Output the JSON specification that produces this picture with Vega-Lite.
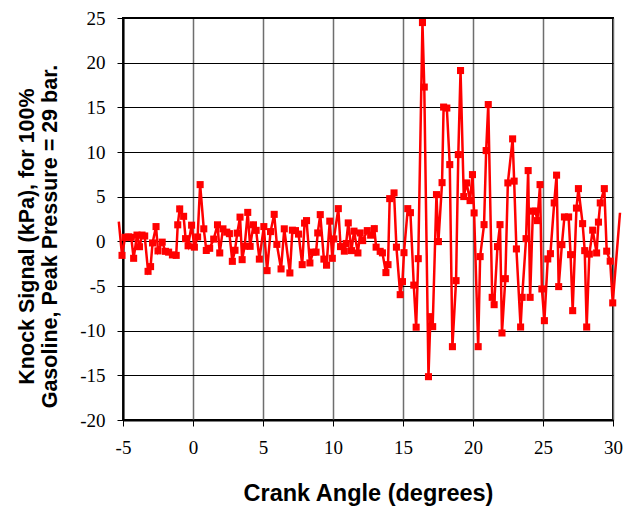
{
  "$schema": "https://vega.github.io/schema/vega-lite/v6.json",
  "width": 490,
  "height": 402,
  "autosize": {"type": "none"},
  "padding": {"left": 123, "top": 18, "right": 12, "bottom": 88},
  "background": "#ffffff",
  "data": {"values": [
    {"angle": -5.30, "signal": 2.2},
    {"angle": -5.07, "signal": -1.57},
    {"angle": -4.85, "signal": 0.45},
    {"angle": -4.60, "signal": 0.5},
    {"angle": -4.41, "signal": 0.45},
    {"angle": -4.24, "signal": -1.9},
    {"angle": -4.00, "signal": 0.7},
    {"angle": -3.82, "signal": -0.6},
    {"angle": -3.64, "signal": 0.7},
    {"angle": -3.45, "signal": 0.6},
    {"angle": -3.21, "signal": -3.36},
    {"angle": -3.03, "signal": -2.83},
    {"angle": -2.89, "signal": -0.18},
    {"angle": -2.64, "signal": 1.65},
    {"angle": -2.50, "signal": -1.07},
    {"angle": -2.20, "signal": -0.09},
    {"angle": -1.97, "signal": -1.12},
    {"angle": -1.74, "signal": -1.21},
    {"angle": -1.47, "signal": -1.52},
    {"angle": -1.20, "signal": -1.57},
    {"angle": -1.09, "signal": 1.85},
    {"angle": -0.95, "signal": 3.63},
    {"angle": -0.67, "signal": 2.8},
    {"angle": -0.53, "signal": 0.3},
    {"angle": -0.35, "signal": -0.5},
    {"angle": -0.10, "signal": 1.81},
    {"angle": 0.10, "signal": -0.65},
    {"angle": 0.33, "signal": 0.49},
    {"angle": 0.51, "signal": 6.35},
    {"angle": 0.77, "signal": 1.4},
    {"angle": 0.95, "signal": -1.02},
    {"angle": 1.19, "signal": -0.78},
    {"angle": 1.48, "signal": 0.25},
    {"angle": 1.75, "signal": 1.85},
    {"angle": 1.91, "signal": -1.3},
    {"angle": 2.14, "signal": 1.4},
    {"angle": 2.41, "signal": 1.03},
    {"angle": 2.60, "signal": 0.86},
    {"angle": 2.81, "signal": -2.24},
    {"angle": 3.00, "signal": -1.0},
    {"angle": 3.16, "signal": 0.92},
    {"angle": 3.36, "signal": 2.71},
    {"angle": 3.51, "signal": -2.05},
    {"angle": 3.69, "signal": -0.54},
    {"angle": 3.91, "signal": 3.24},
    {"angle": 4.08, "signal": -0.56},
    {"angle": 4.32, "signal": 1.85},
    {"angle": 4.51, "signal": 1.23},
    {"angle": 4.74, "signal": -1.99},
    {"angle": 5.06, "signal": 1.65},
    {"angle": 5.29, "signal": -3.28},
    {"angle": 5.54, "signal": 1.09},
    {"angle": 5.80, "signal": 3.02},
    {"angle": 5.99, "signal": -0.34},
    {"angle": 6.29, "signal": -3.09},
    {"angle": 6.52, "signal": 1.4},
    {"angle": 6.92, "signal": -3.54},
    {"angle": 7.10, "signal": 1.25},
    {"angle": 7.32, "signal": 1.2},
    {"angle": 7.54, "signal": 0.81},
    {"angle": 7.80, "signal": -2.61},
    {"angle": 7.97, "signal": 2.04},
    {"angle": 8.11, "signal": 2.32},
    {"angle": 8.35, "signal": -2.42},
    {"angle": 8.58, "signal": -1.21},
    {"angle": 8.79, "signal": -1.21},
    {"angle": 8.91, "signal": 0.94},
    {"angle": 9.09, "signal": 2.99},
    {"angle": 9.35, "signal": -1.99},
    {"angle": 9.54, "signal": -2.67},
    {"angle": 9.77, "signal": 2.26},
    {"angle": 9.95, "signal": -1.9},
    {"angle": 10.06, "signal": 0.27},
    {"angle": 10.38, "signal": 3.66},
    {"angle": 10.54, "signal": -0.59},
    {"angle": 10.81, "signal": -1.1},
    {"angle": 10.94, "signal": -0.24},
    {"angle": 11.09, "signal": 2.06},
    {"angle": 11.32, "signal": -1.04},
    {"angle": 11.50, "signal": 1.14},
    {"angle": 11.78, "signal": -1.3},
    {"angle": 11.94, "signal": 0.94},
    {"angle": 12.12, "signal": 0.08},
    {"angle": 12.45, "signal": 1.2},
    {"angle": 12.69, "signal": 0.69},
    {"angle": 12.95, "signal": 1.42},
    {"angle": 13.08, "signal": -0.65},
    {"angle": 13.37, "signal": -1.12},
    {"angle": 13.53, "signal": -1.29},
    {"angle": 13.78, "signal": -3.5},
    {"angle": 13.93, "signal": -2.61},
    {"angle": 14.05, "signal": 4.78},
    {"angle": 14.36, "signal": 5.42},
    {"angle": 14.53, "signal": -0.65},
    {"angle": 14.80, "signal": -5.97},
    {"angle": 14.96, "signal": -4.51},
    {"angle": 15.07, "signal": -1.27},
    {"angle": 15.34, "signal": 3.66},
    {"angle": 15.53, "signal": 3.21},
    {"angle": 15.77, "signal": -4.9},
    {"angle": 15.94, "signal": -9.61},
    {"angle": 16.09, "signal": -1.94},
    {"angle": 16.39, "signal": 24.49},
    {"angle": 16.52, "signal": 17.27},
    {"angle": 16.82, "signal": -15.15},
    {"angle": 16.96, "signal": -8.43},
    {"angle": 17.12, "signal": -9.55},
    {"angle": 17.39, "signal": 5.23},
    {"angle": 17.53, "signal": -0.03},
    {"angle": 17.79, "signal": 6.57},
    {"angle": 17.90, "signal": 15.03},
    {"angle": 18.13, "signal": 14.92},
    {"angle": 18.34, "signal": 8.59},
    {"angle": 18.53, "signal": -11.79},
    {"angle": 18.79, "signal": -4.4},
    {"angle": 18.95, "signal": 9.71},
    {"angle": 19.11, "signal": 19.12},
    {"angle": 19.34, "signal": 5.01},
    {"angle": 19.54, "signal": 6.54},
    {"angle": 19.79, "signal": 4.56},
    {"angle": 19.96, "signal": 7.47},
    {"angle": 20.08, "signal": 3.18},
    {"angle": 20.37, "signal": -11.79},
    {"angle": 20.51, "signal": -1.71},
    {"angle": 20.79, "signal": 1.87},
    {"angle": 20.94, "signal": 10.16},
    {"angle": 21.09, "signal": 15.31},
    {"angle": 21.37, "signal": -6.27},
    {"angle": 21.51, "signal": -7.09},
    {"angle": 21.75, "signal": -0.59},
    {"angle": 21.93, "signal": 1.87},
    {"angle": 22.07, "signal": -10.26},
    {"angle": 22.31, "signal": -4.18},
    {"angle": 22.49, "signal": 6.54},
    {"angle": 22.83, "signal": 11.47},
    {"angle": 22.94, "signal": 6.74},
    {"angle": 23.10, "signal": -0.85},
    {"angle": 23.40, "signal": -9.59},
    {"angle": 23.51, "signal": -6.27},
    {"angle": 23.79, "signal": 0.3},
    {"angle": 23.94, "signal": 7.92},
    {"angle": 24.08, "signal": -6.27},
    {"angle": 24.28, "signal": 3.38},
    {"angle": 24.46, "signal": 3.38},
    {"angle": 24.60, "signal": 2.32},
    {"angle": 24.79, "signal": 6.35},
    {"angle": 24.92, "signal": -5.33},
    {"angle": 25.10, "signal": -8.88},
    {"angle": 25.34, "signal": -1.97},
    {"angle": 25.53, "signal": -1.38},
    {"angle": 25.80, "signal": 4.3},
    {"angle": 25.97, "signal": 7.41},
    {"angle": 26.12, "signal": -5.07},
    {"angle": 26.35, "signal": -0.37},
    {"angle": 26.53, "signal": 2.73},
    {"angle": 26.83, "signal": 2.73},
    {"angle": 26.97, "signal": -1.49},
    {"angle": 27.12, "signal": -7.76},
    {"angle": 27.39, "signal": 3.72},
    {"angle": 27.53, "signal": 5.9},
    {"angle": 27.83, "signal": 1.98},
    {"angle": 27.98, "signal": -1.04},
    {"angle": 28.12, "signal": -9.59},
    {"angle": 28.31, "signal": -1.43},
    {"angle": 28.55, "signal": 1.25},
    {"angle": 28.83, "signal": -1.3},
    {"angle": 28.96, "signal": 2.15},
    {"angle": 29.09, "signal": 4.3},
    {"angle": 29.38, "signal": 5.9},
    {"angle": 29.55, "signal": -1.1},
    {"angle": 29.80, "signal": -2.22},
    {"angle": 29.98, "signal": -6.89},
    {"angle": 30.50, "signal": 3.2}
  ]},
  "encoding": {
    "x": {
      "field": "angle", "type": "quantitative",
      "scale": {"domain": [-5, 30], "nice": false, "zero": false},
      "axis": {
        "values": [-5, 0, 5, 10, 15, 20, 25, 30],
        "labelExpr": "replace(datum.label, '\u2212', '-')",
        "grid": true, "gridColor": "#6e6e6e", "gridWidth": 1.5,
        "title": "Crank Angle (degrees)", "titleFontSize": 23.5,
        "titleY": 73, "titleBaseline": "middle",
        "labelPadding": 12, "labelFlush": false, "labelOverlap": false
      }
    },
    "y": {
      "field": "signal", "type": "quantitative",
      "scale": {"domain": [-20, 25], "nice": false, "zero": false},
      "axis": {
        "values": [-20, -15, -10, -5, 0, 5, 10, 15, 20, 25],
        "labelExpr": "replace(datum.label, '\u2212', '-')",
        "grid": true, "gridColor": "#000000", "gridWidth": 1,
        "title": ["Knock Signal (kPa), for 100%", "Gasoline, Peak Pressure = 29 bar."],
        "titleFontSize": 21.5,
        "titleAngle": -90, "titleX": -85, "titleY": 218,
        "titleBaseline": "bottom", "titleAlign": "center", "titleLineHeight": 23,
        "labelPadding": 12, "labelOverlap": false, "labelFlush": false
      }
    }
  },
  "layer": [
    {
      "mark": {"type": "line", "color": "#ff0000", "strokeWidth": 2.5, "clip": false}
    },
    {
      "transform": [{"filter": "datum.angle >= -5.1 && datum.angle <= 30.1"}],
      "mark": {"type": "point", "shape": "square", "filled": true, "size": 50, "color": "#ff0000", "opacity": 1, "clip": false}
    }
  ],
  "config": {
    "view": {"stroke": "#000000", "strokeWidth": 2},
    "axis": {
      "labelFont": "Liberation Serif", "labelFontSize": 19, "labelColor": "#000000",
      "tickColor": "#000000", "tickSize": 6, "tickWidth": 1,
      "domainColor": "#000000", "domainWidth": 2,
      "titleFont": "Liberation Sans", "titleFontWeight": "bold", "titleColor": "#000000"
    }
  }
}
